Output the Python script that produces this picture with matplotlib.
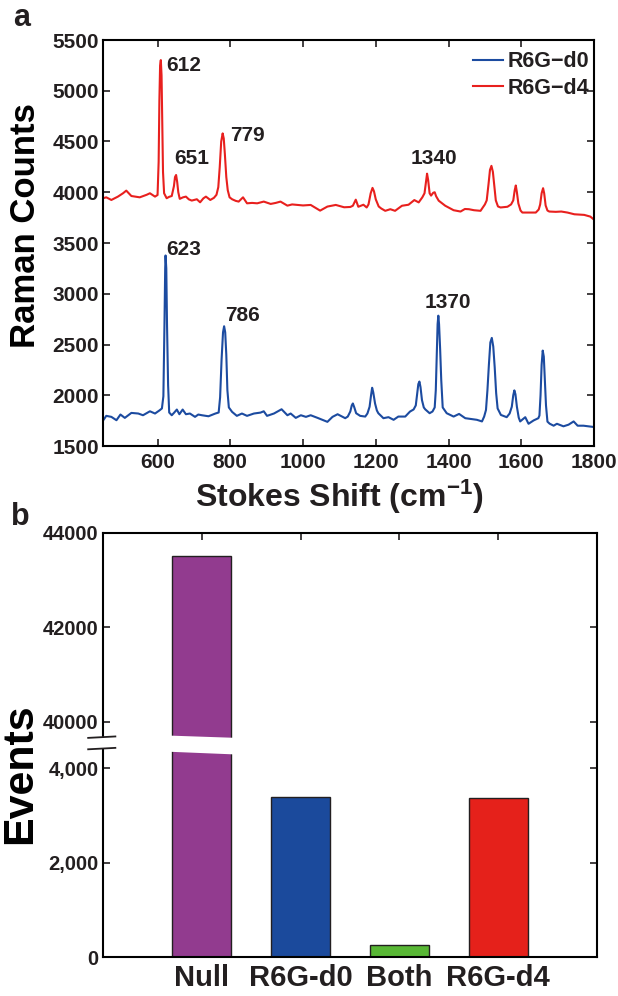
import numpy as np
import matplotlib
matplotlib.use('Agg')
import matplotlib.pyplot as plt
from matplotlib.patches import Rectangle, Polygon

plt.rcParams['font.family'] = ['Liberation Sans', 'DejaVu Sans']
plt.rcParams['font.weight'] = 'bold'
plt.rcParams['axes.labelweight'] = 'bold'
plt.rcParams['text.color'] = '#231F20'
plt.rcParams['xtick.color'] = '#231F20'
plt.rcParams['ytick.color'] = '#231F20'
plt.rcParams['mathtext.fontset'] = 'custom'
plt.rcParams['mathtext.bf'] = 'Liberation Sans:bold'
plt.rcParams['mathtext.default'] = 'bf'

# ---- panel a : spectra ----
d4_shift = [450, 459, 473, 491, 505, 514, 522, 528, 551, 570, 579, 593, 600, 603, 605, 607,
            609, 611, 613, 615, 618, 625, 632, 639, 645, 648, 651, 654, 657, 661, 670, 678,
            686, 694, 708, 717, 726, 733, 745, 755, 762, 767, 771, 775, 779, 782, 785, 789,
            793, 798, 805, 815, 823, 835, 846, 860, 874, 892, 911, 925, 938, 957, 970, 984,
            1000, 1021, 1035, 1047, 1067, 1090, 1113, 1130, 1137, 1145, 1152, 1166, 1175,
            1180, 1186, 1191, 1195, 1200, 1208, 1215, 1226, 1240, 1253, 1272, 1290, 1306,
            1318, 1328, 1334, 1338, 1341, 1344, 1348, 1352, 1358, 1362, 1366, 1373, 1391,
            1414, 1433, 1445, 1456, 1470, 1488, 1500, 1505, 1510, 1514, 1518, 1522, 1526,
            1530, 1536, 1543, 1562, 1572, 1578, 1582, 1585, 1588, 1592, 1598, 1603, 1621,
            1640, 1648, 1652, 1656, 1660, 1663, 1667, 1672, 1677, 1695, 1710, 1727, 1746,
            1773, 1790, 1800]
d4_counts = [3941, 3950, 3924, 3957, 3990, 4016, 3985, 3963, 3950, 3975, 3990, 3957, 3973,
             4300, 4900, 5250, 5302, 5150, 4700, 4200, 3990, 3941, 3955, 3963, 4060, 4150,
             4170, 4100, 4000, 3935, 3950, 3957, 3930, 3918, 3931, 3901, 3940, 3957, 3924,
             3945, 3975, 4050, 4250, 4500, 4580, 4530, 4380, 4150, 4020, 3950, 3931, 3915,
             3908, 3950, 3891, 3895, 3891, 3908, 3885, 3895, 3908, 3868, 3880, 3875, 3870,
             3875, 3845, 3819, 3859, 3875, 3852, 3855, 3867, 3927, 3857, 3877, 3850, 3880,
             3990, 4043, 4010, 3930, 3860, 3840, 3817, 3833, 3817, 3867, 3877, 3923, 3900,
             3950, 3990, 4100, 4183, 4120, 3990, 3967, 3995, 4000, 3960, 3917, 3867, 3823,
             3810, 3835, 3833, 3823, 3817, 3880, 3920, 4080, 4220, 4260, 4200, 4060, 3920,
             3860, 3850, 3857, 3880, 3920, 4020, 4067, 4000, 3890, 3820, 3800, 3800, 3800,
             3830, 3880, 3990, 4040, 3990, 3870, 3820, 3810, 3807, 3810, 3800, 3783, 3777,
             3760, 3730]

d0_shift = [450, 459, 473, 487, 498, 510, 528, 547, 560, 579, 593, 605, 612, 616, 619, 621,
            622, 624, 626, 629, 632, 639, 646, 653, 660, 669, 678, 689, 703, 712, 722, 740,
            759, 768, 772, 776, 780, 783, 786, 789, 792, 796, 805, 818, 832, 846, 865, 883,
            892, 901, 920, 941, 957, 966, 980, 994, 1008, 1021, 1040, 1067, 1081, 1095, 1109,
            1116, 1123, 1130, 1134, 1137, 1141, 1146, 1157, 1171, 1177, 1183, 1187, 1190,
            1193, 1198, 1203, 1207, 1221, 1235, 1249, 1262, 1281, 1294, 1304, 1310, 1314,
            1317, 1320, 1323, 1327, 1332, 1336, 1348, 1356, 1362, 1365, 1368, 1370, 1372,
            1374, 1377, 1380, 1384, 1395, 1414, 1429, 1446, 1464, 1478, 1492, 1498, 1503,
            1507, 1511, 1515, 1519, 1523, 1527, 1531, 1535, 1544, 1560, 1568, 1574, 1578,
            1581, 1584, 1588, 1593, 1597, 1611, 1620, 1634, 1647, 1650, 1653, 1656, 1659,
            1662, 1665, 1668, 1672, 1678, 1689, 1698, 1716, 1730, 1744, 1755, 1771, 1785, 1800]
d0_counts = [1750, 1797, 1787, 1754, 1810, 1777, 1826, 1820, 1803, 1842, 1820, 1850, 1870,
             1990, 2700, 3250, 3377, 3250, 2700, 2100, 1830, 1803, 1830, 1859, 1813, 1859,
             1813, 1820, 1787, 1810, 1803, 1793, 1820, 1830, 1980, 2350, 2620, 2680, 2620,
             2400, 2050, 1880, 1836, 1797, 1820, 1797, 1820, 1829, 1842, 1797, 1820, 1862,
             1803, 1820, 1777, 1803, 1787, 1803, 1777, 1738, 1787, 1813, 1787, 1774, 1790,
             1840, 1900, 1919, 1880, 1823, 1797, 1790, 1820, 1887, 2000, 2074, 2030, 1919,
             1850, 1823, 1774, 1784, 1758, 1790, 1790, 1839, 1860, 1900, 2016, 2110, 2135,
             2080, 1952, 1880, 1861, 1823, 1840, 1880, 2050, 2450, 2700, 2784, 2700, 2450,
             2150, 1880, 1823, 1790, 1816, 1774, 1765, 1758, 1742, 1790, 1855, 2050, 2300,
             2520, 2565, 2480, 2274, 2020, 1870, 1806, 1784, 1820, 1887, 2000, 2048, 2010,
             1887, 1780, 1742, 1784, 1719, 1752, 1774, 1800, 2000, 2300, 2440, 2380, 2150,
             1900, 1740, 1720, 1700, 1719, 1694, 1710, 1742, 1700, 1700, 1694, 1687]

d4_peaks = ['612', '651', '779', '1340']
d4_peak_xy = [(625, 5244), (645, 4334), (799, 4564), (1361, 4329)]
d0_peaks = ['623', '786', '1370']
d0_peak_xy = [(623, 3438), (785, 2784), (1398, 2909)]

# ---- panel b : event counts ----
categories = ['Null', 'R6G-d0', 'Both', 'R6G-d4']
events = [43520, 3395, 260, 3370]
bar_colors = ['#923B8F', '#1B4A9C', '#58B735', '#E5211B']

RED = '#E8201E'
BLUE = '#1C4BA0'
INK = '#231F20'

fig = plt.figure(figsize=(6.18, 9.96), dpi=100)

ax = fig.add_axes([103 / 618, 1 - 446 / 996, 491 / 618, 406 / 996])
ax.plot(d0_shift, d0_counts, color=BLUE, lw=1.5, label='R6G\u2212d0')
ax.plot(d4_shift, d4_counts, color=RED, lw=1.5, label='R6G\u2212d4')
for lab, (px, py) in zip(d4_peaks + d0_peaks, d4_peak_xy + d0_peak_xy):
    ha = 'center' if len(lab) == 4 else 'left'
    ax.text(px, py, lab, fontsize=15, ha=ha, va='center')

ax.set_xlim(450, 1800)
ax.set_ylim(1500, 5500)
ax.set_xticks([600, 800, 1000, 1200, 1400, 1600, 1800])
ax.set_yticks(np.arange(1500, 5501, 500))
ax.tick_params(direction='in', top=True, right=True, length=5, width=1.2, labelsize=15)
ax.tick_params(axis='y', pad=3)
ax.tick_params(axis='x', pad=5)
for s in ax.spines.values():
    s.set_linewidth(1.5)
ax.set_ylabel('Raman Counts', fontsize=25)
ax.yaxis.set_label_coords(-0.124, 0.542)
ax.legend(loc='upper right', bbox_to_anchor=(0.99, 0.972), frameon=False, fontsize=15.5,
          handlelength=1.4, handletextpad=0.2, labelspacing=0.25, borderpad=0, borderaxespad=0)

# x label, one text object with a superscript
fig.text(195 / 618, 1 - 497 / 996, 'Stokes Shift (cm$^{-1}$)', fontsize=23,
         ha='left', va='center')

# ---- broken y axis ----
L, U, G = 4430.0, 39660.0, 212.0


def fwd(y):
    y = np.asarray(y, dtype=float)
    return np.where(y <= L, y, np.where(y >= U, y - U + L + G, L + G * (y - L) / (U - L)))


def inv(t):
    t = np.asarray(t, dtype=float)
    return np.where(t <= L, t, np.where(t >= L + G, t + U - L - G, L + (t - L) * (U - L) / G))


bx = fig.add_axes([103 / 618, 1 - 957 / 996, 494 / 618, 424 / 996])
bx.set_yscale('function', functions=(fwd, inv))
pos = np.arange(1, len(categories) + 1)
bx.bar(pos, events, width=0.6, color=bar_colors, edgecolor=INK, linewidth=1.0, zorder=2)
# white cut through the tall bar
bx.add_patch(Polygon([(0.65, 39710), (1.35, 39640), (1.35, 4290), (0.65, 4350)],
                     closed=True, facecolor='white', edgecolor='none', zorder=3))
bx.set_xlim(0, 5)
bx.set_ylim(0, 44000)
bx.set_yticks([0, 2000, 4000, 40000, 42000, 44000])
bx.set_yticklabels(['0', '2,000', '4,000', '40000', '42000', '44000'])
bx.yaxis.set_minor_locator(matplotlib.ticker.NullLocator())
bx.set_xticks(pos)
bx.set_xticklabels(categories)
bx.tick_params(direction='in', right=True, length=5, width=1.2, labelsize=14.5)
bx.tick_params(axis='y', pad=3)
bx.tick_params(axis='x', bottom=False, top=True, labelsize=21, pad=5)
for s in bx.spines.values():
    s.set_linewidth(1.5)
bx.set_ylabel('Events', fontsize=31)
bx.yaxis.set_label_coords(-0.128, 0.432)

# break on the left spine
ytr = bx.get_yaxis_transform()
bx.add_patch(Rectangle((-0.008, L), 0.016, U - L, transform=ytr, facecolor='white',
                       edgecolor='none', clip_on=False, zorder=5))
bx.plot([-0.03, 0.025], [39620, 39690], transform=ytr, color=INK, lw=1.3,
        clip_on=False, zorder=6)
bx.plot([-0.03, 0.025], [4400, 4455], transform=ytr, color=INK, lw=1.3,
        clip_on=False, zorder=6)

fig.text(22 / 618, 1 - 18 / 996, 'a', fontsize=22, ha='center', va='center')
fig.text(20 / 618, 1 - 517 / 996, 'b', fontsize=22, ha='center', va='center')

fig.savefig('out.png', dpi=100)
